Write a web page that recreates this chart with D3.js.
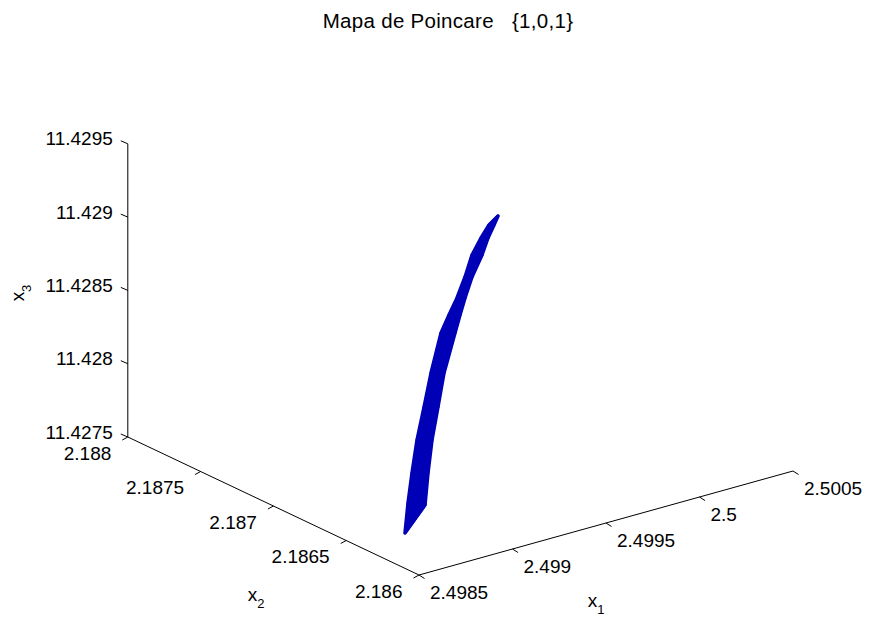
<!DOCTYPE html>
<html>
<head>
<meta charset="utf-8">
<script src="https://cdn.jsdelivr.net/npm/d3@7"></script>
<style>
  body { margin: 0; background: #fff; }
  text { font-family: "Liberation Sans", Arial, Helvetica, sans-serif; fill: #000; }
</style>
</head>
<body>
<div id="graph-container"></div>
<script>
// Poincare points, in plot order (the points zigzag across the band)
var x1 = [2.4986198, 2.4987268, 2.4986670, 2.4987739, 2.4987195, 2.4988265, 2.4987774, 2.4988897,
          2.4988460, 2.4989530, 2.4989146, 2.4990429, 2.4989992, 2.4991008, 2.4990731, 2.4991587,
          2.4991470, 2.4992272, 2.4992210, 2.4993119, 2.4992895, 2.4993751, 2.4993688, 2.4994383,
          2.4994428, 2.4994909];
var x2 = [2.18625, 2.18625, 2.18629, 2.18629, 2.18633, 2.18633, 2.18637, 2.18637,
          2.18641, 2.18641, 2.18645, 2.18645, 2.18649, 2.18649, 2.18653, 2.18653,
          2.18657, 2.18657, 2.18661, 2.18661, 2.18665, 2.18665, 2.18669, 2.18669,
          2.18673, 2.18673];
var x3 = [11.4276264, 11.4277794, 11.4277955, 11.4279622, 11.4279626, 11.4281498, 11.4281484, 11.4283337,
          11.4283303, 11.4285243, 11.4285191, 11.4287464, 11.4287431, 11.4288298, 11.4288208, 11.4289064,
          11.4288918, 11.4290065, 11.4289899, 11.4291077, 11.4290969, 11.4291825, 11.4291659, 11.4292299,
          11.4292095, 11.4292539];

// Axis limits and ticks
var x1Domain = [2.4985, 2.5005];
var x2Domain = [2.186, 2.188];
var x3Domain = [11.4275, 11.4295];
var x1Ticks = [2.4985, 2.499, 2.4995, 2.5, 2.5005];
var x2Ticks = [2.186, 2.1865, 2.187, 2.1875, 2.188];
var x3Ticks = [11.4275, 11.428, 11.4285, 11.429, 11.4295];

var title = "Mapa de Poincare\u00a0\u00a0\u00a0{1,0,1}";

var svgWidth = 871;
var svgHeight = 617;
var blue = "#0000b6";
var fontSize = 19;

var svg = d3.select("#graph-container")
  .append("svg")
  .attr("width", svgWidth)
  .attr("height", svgHeight);

// each variable goes to [0,1] along its box edge
var s1 = d3.scaleLinear().domain(x1Domain).range([0, 1]);
var s2 = d3.scaleLinear().domain(x2Domain).range([0, 1]);
var s3 = d3.scaleLinear().domain(x3Domain).range([0, 1]);

// screen vectors of the box edges (view az=-37.5, el=30, stretched to fill)
var origin = [419, 575];
var e1 = [374, -104];
var e2 = [-291.2, -138];
var e3 = [0, -293.2];

function project(a, b, c) {
  var u = s1(a), v = s2(b), w = s3(c);
  return [origin[0] + u * e1[0] + v * e2[0] + w * e3[0],
          origin[1] + u * e1[1] + v * e2[1] + w * e3[1]];
}

var axes = svg.append("g")
  .attr("stroke", "#000")
  .attr("stroke-width", 1)
  .attr("fill", "none");

function segment(p, q) {
  axes.append("line")
    .attr("x1", p[0]).attr("y1", p[1])
    .attr("x2", q[0]).attr("y2", q[1]);
}

// axis lines
segment(project(x1Domain[0], x2Domain[0], x3Domain[0]), project(x1Domain[1], x2Domain[0], x3Domain[0]));
segment(project(x1Domain[0], x2Domain[0], x3Domain[0]), project(x1Domain[0], x2Domain[1], x3Domain[0]));
segment(project(x1Domain[0], x2Domain[1], x3Domain[0]), project(x1Domain[0], x2Domain[1], x3Domain[1]));

var labels = svg.append("g").style("font-size", fontSize + "px");

// x1 ticks
x1Ticks.forEach(function (t) {
  var p = project(t, x2Domain[0], x3Domain[0]);
  segment(p, [p[0] + 5.5, p[1] + 3.5]);
  labels.append("text")
    .attr("x", p[0] + 11)
    .attr("y", p[1] + 17.5)
    .attr("dy", "0.35em")
    .attr("text-anchor", "start")
    .text(String(t));
});

// x2 ticks
x2Ticks.forEach(function (t) {
  var p = project(x1Domain[0], t, x3Domain[0]);
  segment(p, [p[0] - 5.5, p[1] + 3]);
  labels.append("text")
    .attr("x", p[0] - 16.5)
    .attr("y", p[1] + 16)
    .attr("dy", "0.35em")
    .attr("text-anchor", "end")
    .text(String(t));
});

// x3 ticks
x3Ticks.forEach(function (t) {
  var p = project(x1Domain[0], x2Domain[1], t);
  segment(p, [p[0] - 7, p[1] - 3]);
  labels.append("text")
    .attr("x", p[0] - 15)
    .attr("y", p[1] - 5)
    .attr("dy", "0.35em")
    .attr("text-anchor", "end")
    .text(String(t));
});

// axis labels with subscripts
function axisLabel(x, y, sub, rotate) {
  var t = labels.append("text")
    .attr("transform", "translate(" + x + "," + y + ")" + (rotate ? " rotate(-90)" : ""))
    .attr("text-anchor", "middle");
  t.append("tspan").text("x");
  t.append("tspan")
    .attr("dy", 7)
    .style("font-size", "13px")
    .text(sub);
}
axisLabel(596, 607, "1", false);
axisLabel(256, 601, "2", false);
axisLabel(24, 293, "3", true);

// title
svg.append("text")
  .attr("x", 448)
  .attr("y", 28)
  .attr("text-anchor", "middle")
  .style("font-size", "20.5px")
  .style("letter-spacing", "0.3px")
  .text(title);

// the band of Poincare points
var pts = x1.map(function (d, i) { return project(x1[i], x2[i], x3[i]); });
var leftSide = pts.filter(function (d, i) { return i % 2 === 0; });
var rightSide = pts.filter(function (d, i) { return i % 2 === 1; }).reverse();

var line = d3.line();

svg.append("path")
  .datum(leftSide.concat(rightSide))
  .attr("fill", blue)
  .attr("stroke", blue)
  .attr("stroke-width", 3.5)
  .attr("stroke-linejoin", "round")
  .attr("d", function (d) { return line(d) + "Z"; });

svg.append("path")
  .datum(pts)
  .attr("fill", "none")
  .attr("stroke", blue)
  .attr("stroke-width", 3)
  .attr("stroke-linejoin", "round")
  .attr("d", line);
</script>
</body>
</html>
